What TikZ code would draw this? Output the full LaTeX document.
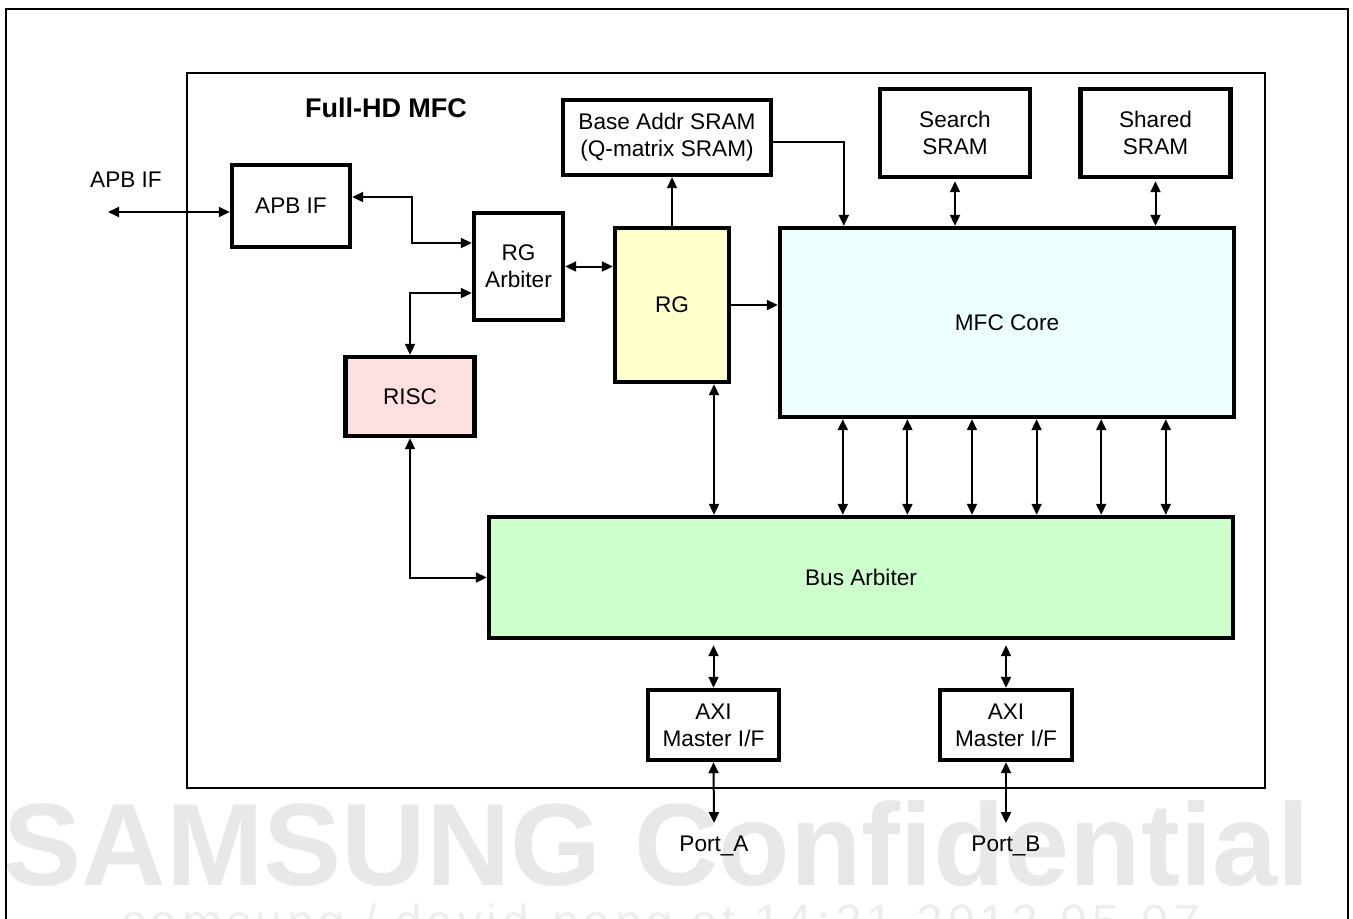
\documentclass[tikz,border=0pt]{standalone}
\usepackage{fontspec}
\setmainfont{Liberation Sans}
\newfontfamily\wmfont[LetterSpace=10]{Liberation Sans}
\usetikzlibrary{arrows.meta,calc,positioning}
\definecolor{riscfill}{HTML}{FFE0E0}
\definecolor{rgfill}{HTML}{FFFFCC}
\definecolor{corefill}{HTML}{EEFFFF}
\definecolor{busfill}{HTML}{CCFFCC}
\tikzset {
  >={Triangle[length=5.5pt,width=5pt]},
  every node/.style={font=\fontsize{11.3}{13.4}\selectfont},
  blk/.style={draw, line width=2.2pt, align=center, inner sep=0pt},
  link/.style={line width=1pt},
}

\begin{document}
\begin{tikzpicture}[x=0.5pt,y=-0.5pt]
          \useasboundingbox (0,0) rectangle (1353,918);
          \clip (0,0) rectangle (1353,918);
          % watermark
          \node[font=\fontsize{58.5}{60}\selectfont\bfseries, text=black!9, anchor=base]
          (wmtop) at (657,885) {SAMSUNG Confidential};
          \node[font=\fontsize{24}{26}\wmfont, text=black!7, anchor=base west]
          (wmbot) at (115,938) {samsung / david.pang at 14:21,2012.05.07};
          % frames
          \draw[line width=1pt] (6,9) rectangle (1348,940);
          \draw[line width=1pt] (187,73) rectangle (1265,788);
          \node[font=\fontsize{13.5}{15}\selectfont\bfseries] (title) at (386,108) {Full-HD MFC};
          % blocks
          \node[blk, minimum width=59pt, minimum height=41pt] (apb) at (291,206) {APB IF};
          \node[blk, minimum width=44.5pt, minimum height=53.5pt] (rgarb) at (518.5,266.5) {RG\\Arbiter};
          \node[blk, fill=riscfill, minimum width=64.5pt, minimum height=39.5pt] (risc) at (410,396.5) {RISC};
          \node[blk, fill=rgfill, minimum width=57pt, minimum height=77pt] (rg) at (672,305) {RG};
          \node[blk, minimum width=104pt, minimum height=37.5pt] (base) at (667,137.5) {Base Addr SRAM\\(Q-matrix SRAM)};
          \node[blk, minimum width=75pt, minimum height=44pt] (search) at (955,133) {Search\\SRAM};
          \node[blk, minimum width=75pt, minimum height=44pt] (shared) at (1155.5,133) {Shared\\SRAM};
          \node[blk, fill=corefill, minimum width=227pt, minimum height=94.5pt] (core) at (1007,322.5) {MFC Core};
          \node[blk, fill=busfill, minimum width=372pt, minimum height=60.5pt] (bus) at (861,577.5) {Bus Arbiter};
          \node[blk, minimum width=65.5pt, minimum height=35pt] (axia) at (713.5,725) {AXI\\Master I/F};
          \node[blk, minimum width=66pt, minimum height=35pt] (axib) at (1006,725) {AXI\\Master I/F};
          \node[inner sep=6pt, anchor=base] (porta) at (714,851) {Port\_A};
          \node[inner sep=6pt, anchor=base] (portb) at (1006,851) {Port\_B};
          \node (apbtxt) at (126,180) {APB IF};
          \coordinate (apbext) at (108,212);
          % connectors
          \draw[link,<->] (apbext) -- (apbext -| apb.west);
          \draw[link,<->] ([yshift=4.5pt]apb.east) -- ++(30pt,0) |- ([yshift=11.75pt]rgarb.west);
          \draw[link,<->] ([yshift=-13.25pt]rgarb.west) -| (risc.north);
          \draw[link,<->] (risc.south) |- (bus.west);
          \draw[link,<->] (rgarb.east) -- (rgarb.east -| rg.west);
          \draw[link,->] (rg.north) -- (rg.north |- base.south);
          \draw[link,->] ([yshift=-2.25pt]base.east) -| ([xshift=33pt]core.north west);
          \draw[link,<->,shorten <=1pt] (search.south) -- (search.south |- core.north);
          \draw[link,<->,shorten <=1pt] (shared.south) -- (shared.south |- core.north);
          \draw[link,->] (rg.east) -- (rg.east -| core.west);
          \draw[link,<->] ([xshift=21pt]rg.south) -- ([xshift=21pt]rg.south |- bus.north);
          \foreach \i in {0,...,5} {
            \coordinate (tap) at ([xshift={(32.5+32.3*\i)*1pt}]core.south west);
            \draw[link,<->] (tap) -- (tap |- bus.north);
          }
          \draw[link,<->,shorten >=2.5pt] (axia.north) -- (axia.north |- bus.south);
          \draw[link,<->,shorten >=2.5pt] (axib.north) -- (axib.north |- bus.south);
          \draw[link,<->] (axia.south) -- (porta.north);
          \draw[link,<->] (axib.south) -- (portb.north);
        \end{tikzpicture}
\end{document}
